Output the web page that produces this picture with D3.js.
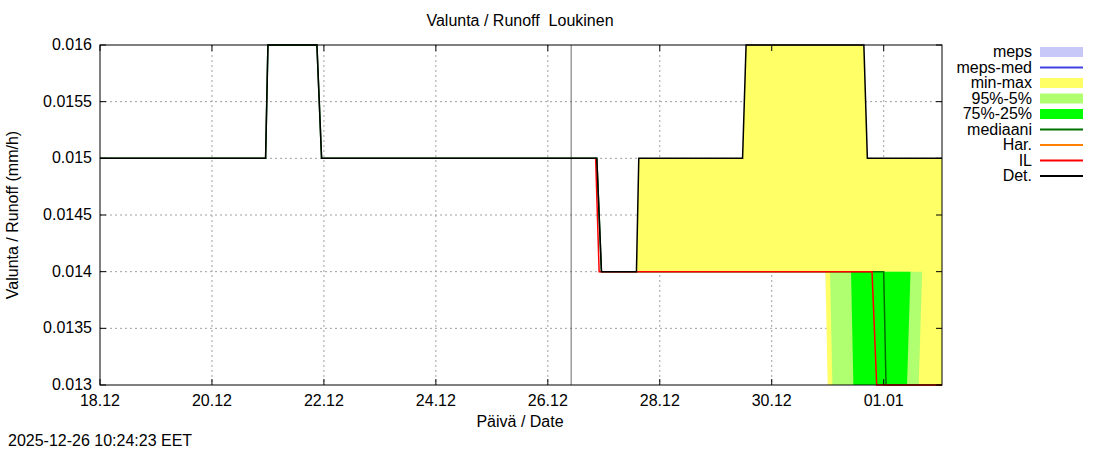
<!DOCTYPE html>
<html><head><meta charset="utf-8">
<script src="https://cdn.jsdelivr.net/npm/d3@7"></script>
<style>body{margin:0;background:#fff}text{font-family:"Liberation Sans",Arial,sans-serif;white-space:pre}</style>
</head><body><svg id="c" width="1100" height="450"></svg>
<script>
const yTicks=[0.013,0.0135,0.014,0.0145,0.015,0.0155,0.016];
const xTicks=["12-18 00:00","12-20 00:00","12-22 00:00","12-24 00:00","12-26 00:00","12-28 00:00","12-30 00:00","01-01 00:00"];
const detSeries=[["12-18 00:00",0.015],["12-20 23:00",0.015],["12-21 00:00",0.016],["12-21 21:00",0.016],["12-21 23:00",0.015],["12-26 21:00",0.015],["12-26 23:00",0.014],["12-27 14:00",0.014],["12-27 15:00",0.015],["12-29 11:30",0.015],["12-29 13:00",0.016],["12-31 15:30",0.016],["12-31 17:00",0.015],["01-02 01:00",0.015]];
const medSeries=[["12-18 00:00",0.015],["12-20 23:00",0.015],["12-21 00:00",0.016],["12-21 21:00",0.016],["12-21 23:00",0.015],["12-26 21:00",0.015],["12-26 23:00",0.014],["01-01 00:00",0.014],["01-01 01:00",0.013],["01-02 01:00",0.013]];
const ilSeries=[["12-26 20:30",0.015],["12-26 22:00",0.014],["12-31 19:00",0.014],["12-31 21:00",0.013],["01-02 01:00",0.013]];
const minMax=[["12-27 14:00",0.014,0.014],["12-27 15:00",0.014,0.015],["12-29 11:30",0.014,0.015],["12-29 13:00",0.014,0.016],["12-30 23:00",0.014,0.016],["12-31 00:00",0.013,0.016],["12-31 15:30",0.013,0.016],["12-31 17:00",0.013,0.015],["01-02 01:00",0.013,0.015]];
const p95=[["12-31 01:00",0.014,0.014],["12-31 02:00",0.013,0.014],["01-01 15:00",0.013,0.014],["01-01 16:30",0.014,0.014]];
const p75=[["12-31 10:00",0.014,0.014],["12-31 11:00",0.013,0.014],["01-01 10:00",0.013,0.014],["01-01 11:30",0.014,0.014]];
const legendItems=[["meps","#c8c8f8",10],["meps-med","#4040e0",2],["min-max","#ffff66",10],["95%-5%","#b0ff70",10],["75%-25%","#00ff00",10],["mediaani","#007000",2],["Har.","#ff8000",2],["IL","#ff0000",2],["Det.","#000000",2]];

const pt=s=>{const [md,hm]=s.split(" ");const [m,d]=md.split("-").map(Number);const [h,mi]=hm.split(":").map(Number);return new Date(Date.UTC(m==12?2025:2026,m-1,d,h,mi));};
const svg=d3.select("#c");
const L=100,R=942,T=45,B=385,FS=16;
const x=d3.scaleUtc().domain([pt("12-18 00:00"),pt("01-02 01:00")]).range([L,R]);
const y=d3.scaleLinear().domain([0.013,0.016]).range([B,T]);
const xt=xTicks.map(pt);
const g=svg.append("g");
g.selectAll(".gx").data(xt.slice(1)).join("line").attr("x1",d=>x(d)).attr("x2",d=>x(d)).attr("y1",T).attr("y2",B).attr("stroke","#a0a0a0").attr("stroke-dasharray","2,3");
g.selectAll(".gy").data(yTicks.slice(1,-1)).join("line").attr("y1",d=>y(d)).attr("y2",d=>y(d)).attr("x1",L).attr("x2",R).attr("stroke","#a0a0a0").attr("stroke-dasharray","2,3");
const area=d3.area().x(d=>x(pt(d[0]))).y0(d=>y(d[1])).y1(d=>y(d[2]));
[[minMax,"#ffff66"],[p95,"#b0ff70"],[p75,"#00ff00"]].forEach(([d,c])=>g.append("path").attr("d",area(d)).attr("fill",c));
const line=d3.line().x(d=>x(pt(d[0]))).y(d=>y(d[1]));
g.append("line").attr("x1",x(pt("12-26 10:00"))).attr("x2",x(pt("12-26 10:00"))).attr("y1",T).attr("y2",B).attr("stroke","#444").attr("stroke-width",0.8);
g.append("path").attr("d",line(medSeries)).attr("fill","none").attr("stroke","#007000").attr("stroke-width",1.5);
g.append("path").attr("d",line(ilSeries)).attr("fill","none").attr("stroke","#ff0000").attr("stroke-width",1.5);
g.append("path").attr("d",line(detSeries)).attr("fill","none").attr("stroke","#000").attr("stroke-width",1.5);
g.append("rect").attr("x",L).attr("y",T).attr("width",R-L).attr("height",B-T).attr("fill","none").attr("stroke","#000");
const fmt=d3.utcFormat("%d.%m");
g.selectAll(".tx").data(xt).join("g").each(function(d){const s=d3.select(this);
 s.append("line").attr("x1",x(d)).attr("x2",x(d)).attr("y1",B).attr("y2",B-6).attr("stroke","#000");
 s.append("line").attr("x1",x(d)).attr("x2",x(d)).attr("y1",T).attr("y2",T+6).attr("stroke","#000");
 s.append("text").attr("x",x(d)).attr("y",B+21).attr("text-anchor","middle").attr("font-size",FS).text(fmt(d));});
g.selectAll(".ty").data(yTicks).join("g").each(function(d){const s=d3.select(this);
 s.append("line").attr("x1",L).attr("x2",L+6).attr("y1",y(d)).attr("y2",y(d)).attr("stroke","#000");
 s.append("line").attr("x1",R).attr("x2",R-6).attr("y1",y(d)).attr("y2",y(d)).attr("stroke","#000");
 s.append("text").attr("x",L-8).attr("y",y(d)+5).attr("text-anchor","end").attr("font-size",FS).text(String(+d.toFixed(4)));});
svg.append("text").attr("x",520).attr("y",26).attr("text-anchor","middle").attr("font-size",FS).text("Valunta / Runoff  Loukinen");
svg.append("text").attr("x",520).attr("y",427).attr("text-anchor","middle").attr("font-size",FS).text("Päivä / Date");
svg.append("text").attr("transform","translate(18,215) rotate(-90)").attr("text-anchor","middle").attr("font-size",FS).text("Valunta / Runoff (mm/h)");
svg.append("text").attr("x",8).attr("y",446).attr("font-size",FS).text("2025-12-26 10:24:23 EET");
legendItems.forEach(([n,c,w],i)=>{const yy=52+i*15.5;
 svg.append("text").attr("x",1032).attr("y",yy+5).attr("text-anchor","end").attr("font-size",FS).text(n);
 svg.append("line").attr("x1",1040).attr("x2",1083).attr("y1",yy).attr("y2",yy).attr("stroke",c).attr("stroke-width",w);});
</script></body></html>
